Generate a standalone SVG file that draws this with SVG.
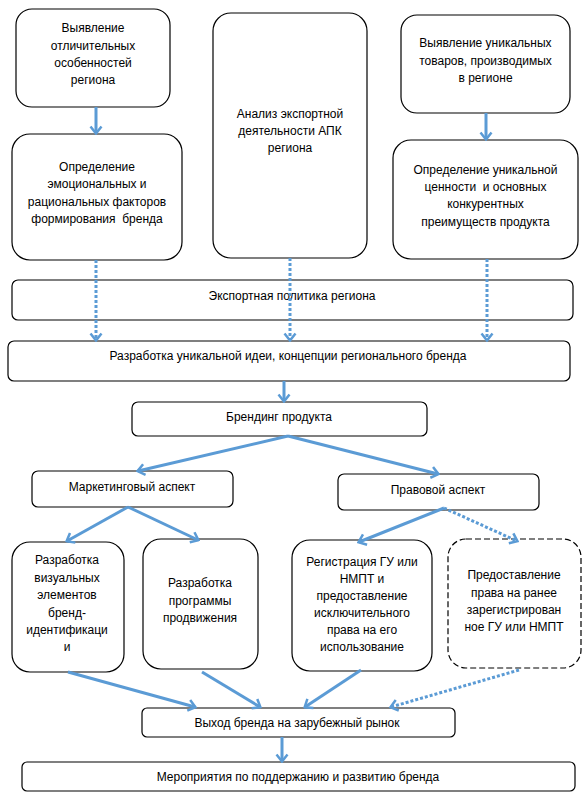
<svg xmlns="http://www.w3.org/2000/svg" width="584" height="794" viewBox="0 0 584 794">
<style>
.b{fill:#fff;stroke:#000;stroke-width:1.2}
.d{fill:#fff;stroke:#000;stroke-width:1.2;stroke-dasharray:6 3}
text{font-family:"Liberation Sans",Arial,sans-serif;font-size:12px;fill:#000;text-anchor:middle}
.c{fill:none;stroke:#5B9BD5;stroke-width:3;marker-end:url(#ah)}
.dt{fill:none;stroke:#5B9BD5;stroke-width:3;stroke-dasharray:3 2;marker-end:url(#ah)}
</style>
<defs>
<marker id="ah" viewBox="0 0 10 14" refX="8" refY="7" markerWidth="10" markerHeight="14" orient="auto" markerUnits="userSpaceOnUse">
<path d="M1.5,1.5 L8.5,7 L1.5,12.5" fill="none" stroke="#5B9BD5" stroke-width="2.5"/>
</marker>
</defs>
<rect width="584" height="794" fill="#fff"/>
<g id="n1"><rect class="b" x="16" y="9" width="154" height="98" rx="16"/>
<text x="93" y="32">Выявление</text><text x="93" y="50">отличительных</text><text x="93" y="67">особенностей</text><text x="93" y="84">региона</text></g>
<g id="n2"><rect class="b" x="12" y="134" width="170" height="126" rx="18"/>
<text x="97" y="171">Определение</text><text x="97" y="188">эмоциональных и</text><text x="97" y="206">рациональных факторов</text><text x="97" y="223" xml:space="preserve">формирования  бренда</text></g>
<g id="n3"><rect class="b" x="213" y="13" width="154" height="245" rx="18"/>
<text x="290" y="118">Анализ экспортной</text><text x="290" y="135">деятельности АПК</text><text x="290" y="152">региона</text></g>
<g id="n4"><rect class="b" x="401" y="15" width="169" height="98" rx="16"/>
<text x="485.5" y="47">Выявление уникальных</text><text x="485.5" y="65">товаров, производимых</text><text x="485.5" y="82">в регионе</text></g>
<g id="n5"><rect class="b" x="393" y="140" width="185" height="119" rx="18"/>
<text x="485.5" y="174">Определение уникальной</text><text x="485.5" y="191" xml:space="preserve">ценности  и основных</text><text x="485.5" y="208">конкурентных</text><text x="485.5" y="226">преимуществ продукта</text></g>
<g id="n6"><rect class="b" x="12" y="280" width="561" height="40" rx="6"/>
<text x="292" y="300">Экспортная политика региона</text></g>
<g id="n7"><rect class="b" x="8" y="341" width="562" height="40" rx="6"/>
<text x="288" y="360">Разработка уникальной идеи, концепции регионального бренда</text></g>
<g id="n8"><rect class="b" x="132" y="402" width="295" height="34" rx="6"/>
<text x="279" y="421">Брендинг продукта</text></g>
<g id="n9"><rect class="b" x="32" y="471" width="201" height="36" rx="6"/>
<text x="132" y="491">Маркетинговый аспект</text></g>
<g id="n10"><rect class="b" x="338" y="474" width="201" height="36" rx="6"/>
<text x="438" y="494">Правовой аспект</text></g>
<g id="n11"><rect class="b" x="12" y="542" width="112" height="130" rx="18"/>
<text x="67" y="564">Разработка</text><text x="67" y="582">визуальных</text><text x="67" y="599">элементов</text><text x="67" y="617">бренд-</text><text x="67" y="634">идентификаци</text><text x="67" y="651">и</text></g>
<g id="n12"><rect class="b" x="143" y="539" width="115" height="130" rx="18"/>
<text x="200" y="587">Разработка</text><text x="200" y="605">программы</text><text x="200" y="622">продвижения</text></g>
<g id="n13"><rect class="b" x="292" y="540" width="140" height="131" rx="18"/>
<text x="362" y="566">Регистрация ГУ или</text><text x="362" y="583">НМПТ и</text><text x="362" y="600">предоставление</text><text x="362" y="617">исключительного</text><text x="362" y="634">права на его</text><text x="362" y="651">использование</text></g>
<g id="n14"><rect class="d" x="448" y="539" width="133" height="129" rx="18"/>
<text x="514" y="579">Предоставление</text><text x="514" y="597">права на ранее</text><text x="514" y="614">зарегистрирован</text><text x="514" y="631">ное ГУ или НМПТ</text></g>
<g id="n15"><rect class="b" x="142" y="708" width="313" height="29" rx="5"/>
<text x="297" y="727">Выход бренда на зарубежный рынок</text></g>
<g id="n16"><rect class="b" x="22" y="762" width="553" height="29" rx="5"/>
<text x="298" y="781">Мероприятия по поддержанию и развитию бренда</text></g>
<g id="connectors">
<path class="c" d="M96,107 L96,133"/>
<path class="c" d="M486,113 L486,139"/>
<path class="dt" d="M96,260 L96,340"/>
<path class="dt" d="M290,258 L290,340"/>
<path class="dt" d="M487,259 L487,340"/>
<path class="c" d="M284,381 L284,401"/>
<path class="c" d="M288,436 L138,471"/>
<path class="c" d="M288,436 L438,474"/>
<path class="c" d="M128,507 L67,541"/>
<path class="c" d="M128,507 L198,540"/>
<path class="c" d="M444,508 L359,542"/>
<path class="dt" d="M444,508 L517,541"/>
<path class="c" d="M68,672 L195,707"/>
<path class="c" d="M202,672 L260,707"/>
<path class="c" d="M361,670 L305,707"/>
<path class="dt" d="M519,670 L391,707"/>
<path class="c" d="M282,737 L282,761"/>
</g>
</svg>
